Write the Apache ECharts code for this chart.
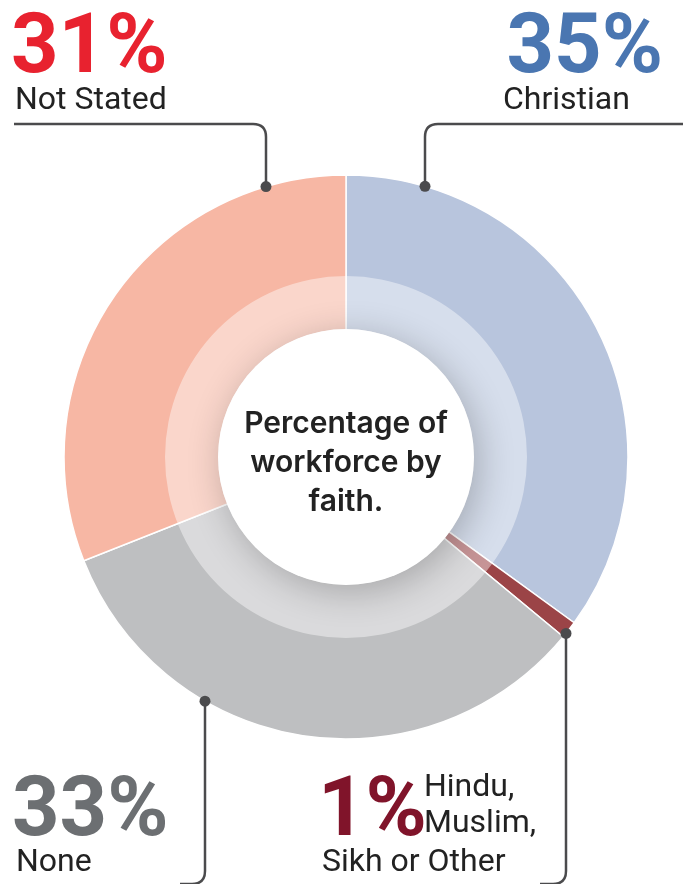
<!DOCTYPE html>
<html>
<head>
<meta charset="utf-8">
<script src="https://cdn.jsdelivr.net/npm/echarts@6/dist/echarts.min.js"></script>
<style>
  html, body { margin: 0; padding: 0; background: #fff; }
  #chart { width: 683px; height: 884px; }
</style>
</head>
<body>
<div id="chart"></div>
<script>
// Workforce by faith
const categories = ['Christian', 'Hindu, Muslim, Sikh or Other', 'None', 'Not Stated'];
const shares = [35, 1, 33, 31];
const sliceColors = ['#b8c5dd', '#9b4447', '#bebfc1', '#f7b7a4'];
const labelColors = ['#4a76b1', '#80142a', '#6c6f72', '#e8222f'];

const CX = 346, CY = 457;
const R_OUT = 282, R_IN = 127, R_HALO = 181;
const LINE = '#4b4b4d';

const chart = echarts.init(document.getElementById('chart'), null, { renderer: 'canvas' });

// point on the outer rim where a vertical leader at x meets the circle
function rimY(x, below) {
  const dx = x - CX;
  const dy = Math.sqrt(R_OUT * R_OUT - dx * dx);
  return below ? CY + dy : CY - dy;
}

// leader line: horizontal run, rounded corner, vertical drop to a dot on the rim
function leader(xStart, yRun, xDrop, below, bottomY) {
  const r = 13;
  const dir = xDrop > xStart ? 1 : -1;
  const dotY = rimY(xDrop, below);
  const els = [];
  const st = { stroke: LINE, lineWidth: 2.5, fill: null };
  if (!below) {
    els.push({ type: 'line', z: 120, shape: { x1: xStart, y1: yRun, x2: xDrop - dir * r, y2: yRun }, style: st });
    els.push({ type: 'bezierCurve', z: 120, shape: { x1: xDrop - dir * r, y1: yRun, cpx1: xDrop, cpy1: yRun, x2: xDrop, y2: yRun + r }, style: st });
    els.push({ type: 'line', z: 120, shape: { x1: xDrop, y1: yRun + r, x2: xDrop, y2: dotY }, style: st });
  } else {
    els.push({ type: 'line', z: 120, shape: { x1: xDrop, y1: dotY, x2: xDrop, y2: bottomY - r }, style: st });
    els.push({ type: 'bezierCurve', z: 120, shape: { x1: xDrop, y1: bottomY - r, cpx1: xDrop, cpy1: bottomY, x2: xDrop - r, y2: bottomY }, style: st });
    els.push({ type: 'line', z: 120, shape: { x1: xDrop - r, y1: bottomY, x2: xStart, y2: bottomY }, style: st });
  }
  els.push({ type: 'circle', z: 121, shape: { cx: xDrop, cy: dotY, r: 5.5 }, style: { fill: LINE } });
  return els;
}

const PCT_FONT = 'Roboto, "Noto Sans", sans-serif';
function pct(i, x, y, align) {
  return {
    type: 'text', z: 130, x: x, y: y,
    style: {
      text: shares[i] + '%', fill: labelColors[i],
      font: 'bold 83px ' + PCT_FONT, textAlign: align || 'left', textVerticalAlign: 'top'
    }
  };
}
function name(text, x, y, align) {
  return {
    type: 'text', z: 130, x: x, y: y,
    style: {
      text: text, fill: '#222',
      font: '32px ' + PCT_FONT, textAlign: align || 'left', textVerticalAlign: 'middle'
    }
  };
}

const graphics = [
  // soft halo ring over the inner part of the donut
  { type: 'ring', z: 100, shape: { cx: CX, cy: CY, r: R_HALO, r0: R_IN }, style: { fill: 'rgba(255,255,255,0.43)' } },
  // white centre disc with a drop shadow
  { type: 'circle', z: 101, shape: { cx: CX, cy: CY, r: R_IN + 1 },
    style: { fill: '#fff', shadowBlur: 36, shadowColor: 'rgba(0,0,0,0.24)', shadowOffsetX: 5, shadowOffsetY: 7 } },
  { type: 'text', z: 102, x: CX, y: CY + 6,
    style: {
      text: 'Percentage of\nworkforce by\nfaith.', fill: '#222',
      font: '600 30px Inter, "Noto Sans", sans-serif', lineHeight: 39,
      textAlign: 'center', textVerticalAlign: 'middle'
    } },

  ...leader(14, 124, 266, false),
  ...leader(683, 124, 425, false),
  ...leader(180, 0, 205, true, 884),
  ...leader(540, 0, 566, true, 884),

  pct(3, 11, 10), name('Not Stated', 15, 101),
  pct(0, 663, 10, 'right'), name('Christian', 503, 101),
  pct(2, 12, 773), name('None', 16, 863),
  pct(1, 318, 773),
  name('Hindu,', 424, 788), name('Muslim,', 424, 824), name('Sikh or Other', 322, 863)
];

chart.setOption({
  animation: false,
  backgroundColor: '#fff',
  series: [{
    type: 'pie',
    silent: true,
    center: [CX, CY],
    radius: [R_IN, R_OUT],
    startAngle: 90,
    clockwise: true,
    label: { show: false },
    labelLine: { show: false },
    itemStyle: { borderColor: '#fff', borderWidth: 1.5 },
    data: categories.map((c, i) => ({ name: c, value: shares[i], itemStyle: { color: sliceColors[i] } }))
  }],
  graphic: { elements: graphics }
});
</script>
</body>
</html>
